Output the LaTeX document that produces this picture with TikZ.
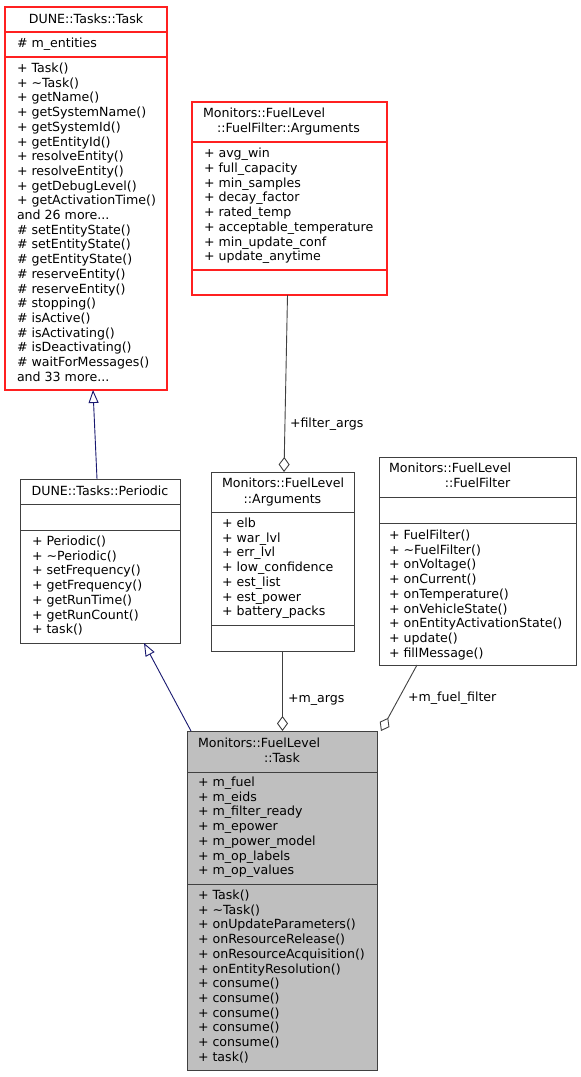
\documentclass[tikz,border=0pt]{standalone}
\usepackage{fontspec}
\setmainfont{DejaVu Sans}
\usetikzlibrary{arrows.meta}
\definecolor{edgegray}{HTML}{404040}
\definecolor{inhblue}{HTML}{191970}
\definecolor{fillgray}{HTML}{BFBFBF}
\definecolor{boxred}{HTML}{FF2020}
\newcommand{\tl}{\textasciitilde}
\begin{document}
\begin{tikzpicture}[x=1pt,y=-1pt,
  every node/.style={font=\fontsize{12.6}{14.7}\selectfont, inner sep=0pt, outer sep=0pt},
  cls/.style={draw=edgegray, line width=1pt, fill=white, anchor=north west},
  clsred/.style={draw=boxred, line width=1.1pt, fill=white, anchor=north west},
  clsmain/.style={draw=edgegray, line width=1pt, fill=fillgray, anchor=north west},
  sepg/.style={draw=edgegray, line width=1pt},
  sepr/.style={draw=boxred, line width=1.1pt},
  member/.style={anchor=north west, align=left},
  titlec/.style={anchor=base},
  titlel/.style={anchor=base west},
  elabel/.style={anchor=base west},
  inh/.style={draw=inhblue, line width=0.9pt, -{Triangle[open, length=13pt, width=10pt]}},
  agg/.style={draw=edgegray, line width=0.9pt, -{Diamond[open, length=15pt, width=11pt]}}
]
\fill[white] (0,0) rectangle (581,1077);
\useasboundingbox (0,0) rectangle (581,1077);

% ---- DUNE::Tasks::Task
\node[clsred, minimum width=162pt, minimum height=383pt] (dtask) at (5,7) {};
\draw[sepr] (dtask.west |- 0,32) -- (dtask.east |- 0,32);
\draw[sepr] (dtask.west |- 0,57) -- (dtask.east |- 0,57);
\node[titlec] (dtaskt) at (86,23.3) {DUNE::Tasks::Task};
\node[member] (dtaska) at (17,47.7-10.29) {\strut\# m\_entities};
\node[member] (dtaskm) at (17,72.5-10.29) {\strut+ Task()\\+ \tl Task()\\+ getName()\\+ getSystemName()\\+ getSystemId()\\+ getEntityId()\\+ resolveEntity()\\+ resolveEntity()\\+ getDebugLevel()\\+ getActivationTime()\\and 26 more...\\\# setEntityState()\\\# setEntityState()\\\# getEntityState()\\\# reserveEntity()\\\# reserveEntity()\\\# stopping()\\\# isActive()\\\# isActivating()\\\# isDeactivating()\\\# waitForMessages()\\and 33 more...};

% ---- Monitors::FuelLevel::FuelFilter::Arguments
\node[clsred, minimum width=195pt, minimum height=193pt] (ffargs) at (192,102) {};
\draw[sepr] (ffargs.west |- 0,142) -- (ffargs.east |- 0,142);
\draw[sepr] (ffargs.west |- 0,270) -- (ffargs.east |- 0,270);
\node[titlel] (ffargst1) at (203,117.5) {Monitors::FuelLevel};
\node[titlec] (ffargst2) at (288.5,132) {::FuelFilter::Arguments};
\node[member] (ffargsa) at (204,157.8-10.29) {\strut+ avg\_win\\+ full\_capacity\\+ min\_samples\\+ decay\_factor\\+ rated\_temp\\+ acceptable\_temperature\\+ min\_update\_conf\\+ update\_anytime};

% ---- DUNE::Tasks::Periodic
\node[cls, minimum width=160pt, minimum height=164pt] (periodic) at (20,479) {};
\draw[sepg] (periodic.west |- 0,504) -- (periodic.east |- 0,504);
\draw[sepg] (periodic.west |- 0,530) -- (periodic.east |- 0,530);
\node[titlec] (periodict) at (100,495.5) {DUNE::Tasks::Periodic};
\node[member] (periodicm) at (32,545.5-10.29) {\strut+ Periodic()\\+ \tl Periodic()\\+ setFrequency()\\+ getFrequency()\\+ getRunTime()\\+ getRunCount()\\+ task()};

% ---- Monitors::FuelLevel::Arguments
\node[cls, minimum width=143pt, minimum height=179pt] (args) at (211,472) {};
\draw[sepg] (args.west |- 0,512) -- (args.east |- 0,512);
\draw[sepg] (args.west |- 0,625) -- (args.east |- 0,625);
\node[titlel] (argst1) at (222,487.5) {Monitors::FuelLevel};
\node[titlec] (argst2) at (282.5,503) {::Arguments};
\node[member] (argsa) at (222,527.5-10.29) {\strut+ elb\\+ war\_lvl\\+ err\_lvl\\+ low\_confidence\\+ est\_list\\+ est\_power\\+ battery\_packs};

% ---- Monitors::FuelLevel::FuelFilter
\node[cls, minimum width=197pt, minimum height=208pt] (filter) at (379,457) {};
\draw[sepg] (filter.west |- 0,497) -- (filter.east |- 0,497);
\draw[sepg] (filter.west |- 0,523) -- (filter.east |- 0,523);
\node[titlel] (filtert1) at (389,472.5) {Monitors::FuelLevel};
\node[titlec] (filtert2) at (477.5,487.5) {::FuelFilter};
\node[member] (filterm) at (389,539.5-10.29) {\strut+ FuelFilter()\\+ \tl FuelFilter()\\+ onVoltage()\\+ onCurrent()\\+ onTemperature()\\+ onVehicleState()\\+ onEntityActivationState()\\+ update()\\+ fillMessage()};

% ---- Monitors::FuelLevel::Task
\node[clsmain, minimum width=190pt, minimum height=339pt] (task) at (187,731) {};
\draw[sepg] (task.west |- 0,772) -- (task.east |- 0,772);
\draw[sepg] (task.west |- 0,884) -- (task.east |- 0,884);
\node[titlel] (taskt1) at (198,747.5) {Monitors::FuelLevel};
\node[titlec] (taskt2) at (282,762) {::Task};
\node[member] (taska) at (198,786.5-10.29) {\strut+ m\_fuel\\+ m\_eids\\+ m\_filter\_ready\\+ m\_epower\\+ m\_power\_model\\+ m\_op\_labels\\+ m\_op\_values};
\node[member] (taskm) at (198,899.5-10.29) {\strut+ Task()\\+ \tl Task()\\+ onUpdateParameters()\\+ onResourceRelease()\\+ onResourceAcquisition()\\+ onEntityResolution()\\+ consume()\\+ consume()\\+ consume()\\+ consume()\\+ consume()\\+ task()};

% ---- connectors
\draw[inh] ([xshift=-3pt]periodic.north) -- ([xshift=7pt]dtask.south);
\draw[inh] ([xshift=4pt]task.north west) -- ([xshift=44pt]periodic.south);
\draw[agg] ([xshift=-2pt]ffargs.south) -- ([xshift=1.5pt]args.north);
\draw[agg] (args.south) -- (args.south |- task.north);
\draw[agg] ([xshift=-60.5pt]filter.south) -- ([xshift=4pt]task.north east);

% ---- connector labels
\node[elabel] (lfilter) at (290,427) {+filter\_args};
\node[elabel] (largs) at (288,702) {+m\_args};
\node[elabel] (lfuel) at (408,701.5) {+m\_fuel\_filter};
\end{tikzpicture}
\end{document}
